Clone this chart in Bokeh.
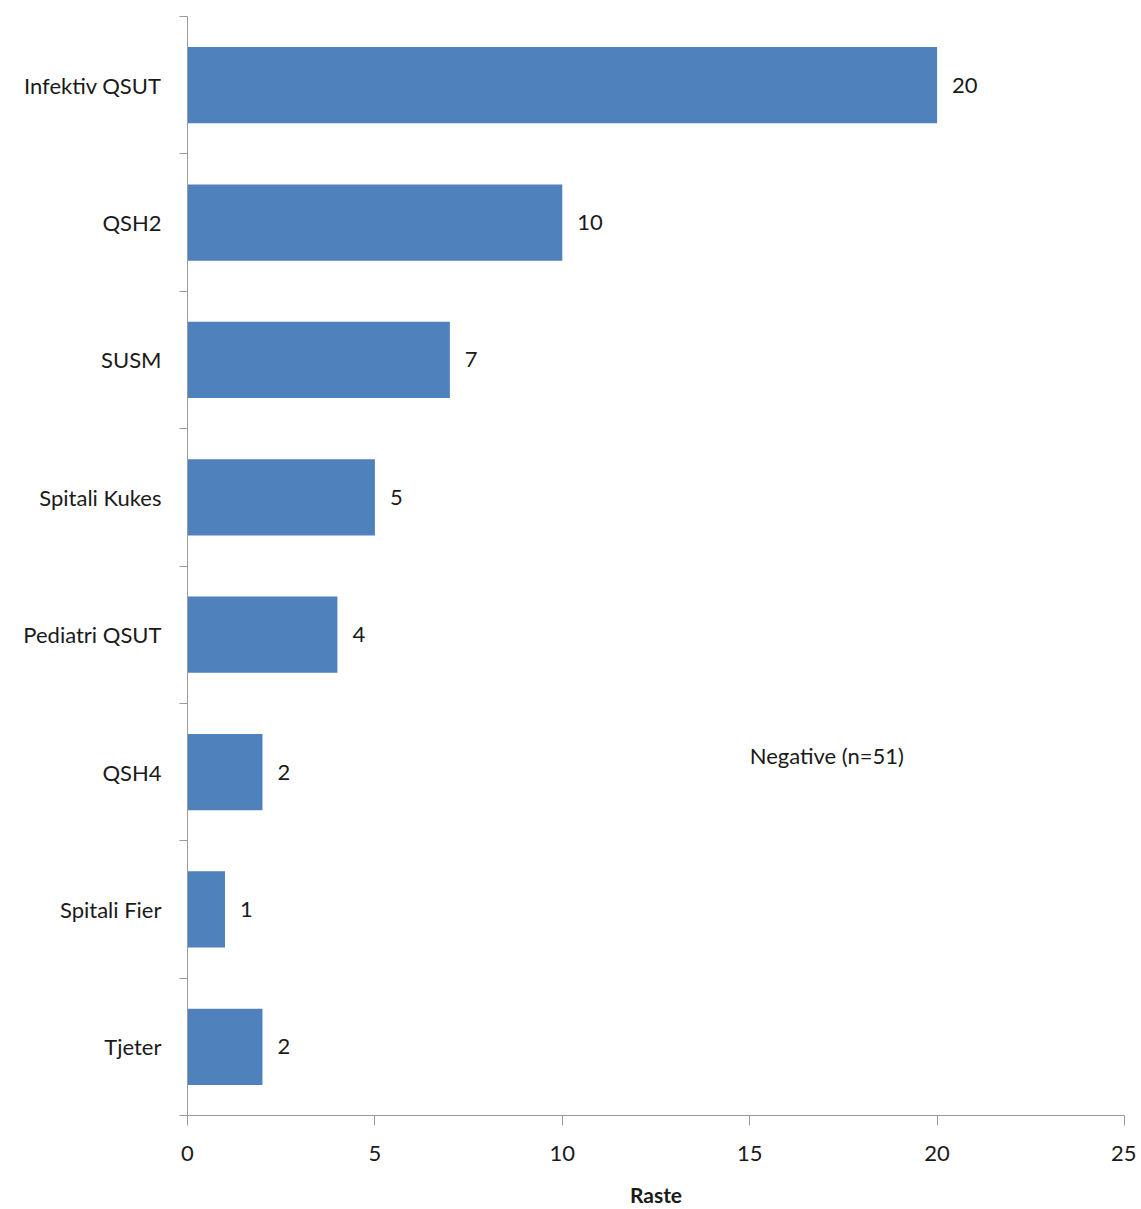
from bokeh.plotting import figure
from bokeh.models import FixedTicker, Label, ColumnDataSource, Range1d
from bokeh.core.properties import value
from bokeh.embed import file_html
from bokeh.resources import INLINE

categories = ["Infektiv QSUT", "QSH2", "SUSM", "Spitali Kukes", "Pediatri QSUT", "QSH4", "Spitali Fier", "Tjeter"]
counts = [20, 10, 7, 5, 4, 2, 1, 2]
x_ticks = [0, 5, 10, 15, 20, 25]
x_label = "Raste"
note = "Negative (n=51)"

n = len(categories)
ypos = [n - i - 0.5 for i in range(n)]
src = ColumnDataSource(dict(cat=categories, y=ypos, v=counts, lab=[str(c) for c in counts]))

FONT = "Lato"
p = figure(width=1136, height=1209, output_backend="svg", toolbar_location=None,
           x_range=Range1d(0, 25), y_range=Range1d(0, n),
           min_border_left=187, min_border_right=12, min_border_top=16, min_border_bottom=92)
p.outline_line_color = None
p.xgrid.grid_line_color = None
p.ygrid.grid_line_color = None

p.hbar(y="y", right="v", left=0, height=0.555, source=src, color="#4F81BD", line_color=None)
p.text(x="v", y="y", text="lab", source=src, x_offset=15, text_align="left", text_baseline="middle",
       text_font_size="22px", text_color="#1a1a1a", text_font=value(FONT))

p.add_layout(Label(x=15, y=2.62, text=note, text_align="left", text_baseline="middle",
                   text_font_size="22px", text_color="#1a1a1a", text_font=FONT))

axc = "#9a9a9a"
p.xaxis.ticker = FixedTicker(ticks=x_ticks)
p.xaxis.axis_line_color = axc
p.xaxis.major_tick_line_color = axc
p.xaxis.major_tick_out = 10
p.xaxis.major_tick_in = 0
p.xaxis.minor_tick_line_color = None
p.xaxis.major_label_text_font = FONT
p.xaxis.major_label_text_font_size = "22px"
p.xaxis.major_label_text_color = "#1a1a1a"
p.xaxis.major_label_standoff = 20
p.xaxis.axis_label = x_label
p.xaxis.axis_label_text_font = FONT
p.xaxis.axis_label_text_font_style = "bold"
p.xaxis.axis_label_text_font_size = "21px"
p.xaxis.axis_label_text_color = "#1a1a1a"
p.xaxis.axis_label_standoff = 18

p.yaxis.ticker = FixedTicker(ticks=ypos, minor_ticks=list(range(n + 1)))
p.yaxis.major_label_overrides = {y: c for y, c in zip(ypos, categories)}
p.yaxis.axis_line_color = axc
p.yaxis.major_tick_line_color = None
p.yaxis.major_tick_out = 8
p.yaxis.minor_tick_line_color = axc
p.yaxis.minor_tick_out = 8
p.yaxis.minor_tick_in = 0
p.yaxis.major_label_text_font = FONT
p.yaxis.major_label_text_font_size = "22px"
p.yaxis.major_label_text_color = "#1a1a1a"
p.yaxis.major_label_standoff = 18

open("out.html", "w").write(file_html(p, INLINE))
